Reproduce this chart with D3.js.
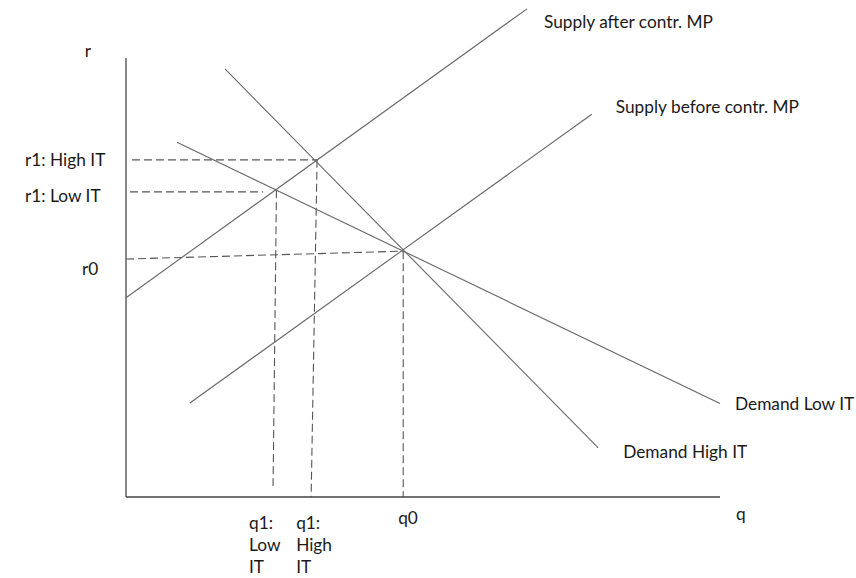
<!DOCTYPE html>
<html>
<head>
<meta charset="utf-8">
<script src="https://cdn.jsdelivr.net/npm/d3@7"></script>
<style>
  html, body { margin: 0; padding: 0; background: #fff; }
  svg { display: block; }
  text { font-family: Lato, "Open Sans", sans-serif; fill: #1a1a1a; }
</style>
</head>
<body>
<svg id="chart" width="856" height="578"></svg>
<script>
// ---- Data (quantity q, interest rate r, arbitrary units) ----
const seriesNames = ["Supply after contr. MP", "Supply before contr. MP", "Demand High IT", "Demand Low IT"];
const supplyAfter  = [{q: 0.00, r: 4.54}, {q: 8.10, r: 11.12}];
const supplyBefore = [{q: 1.29, r: 2.14}, {q: 9.41, r: 8.72}];
const demandHigh   = [{q: 2.00, r: 9.75}, {q: 9.54, r: 1.12}];
const demandLow    = [{q: 1.03, r: 8.08}, {q: 12.0, r: 2.13}];

// equilibrium / guide lines (dashed)
const guideR0      = [{q: 0.00, r: 5.42}, {q: 5.60, r: 5.60}];
const guideQ0      = [{q: 5.60, r: 5.60}, {q: 5.60, r: 0.00}];
const guideR1High  = [{q: 0.12, r: 7.68}, {q: 3.86, r: 7.68}];
const guideQ1High  = [{q: 3.86, r: 7.68}, {q: 3.74, r: 0.00}];
const guideR1Low   = [{q: 0.08, r: 6.95}, {q: 2.77, r: 6.95}];
const guideQ1Low   = [{q: 3.04, r: 6.99}, {q: 2.97, r: 0.16}];

// tick labels
const yTickLabels = ["r1: High IT", "r1: Low IT", "r0"];
const yTickValues = [7.68, 6.95, 5.42];
const xTickLabels = [["q1:", "Low", "IT"], ["q1:", "High", "IT"], ["q0"]];
const xTickValues = [2.97, 3.74, 5.60];
const axisTitles  = ["q", "r"];

// ---- Drawing ----
const svg = d3.select("#chart");
const x = d3.scaleLinear().domain([0, 12]).range([126, 720]);
const y = d3.scaleLinear().domain([0, 10]).range([497, 58]);
const line = d3.line().x(d => x(d.q)).y(d => y(d.r));

// axes (plain lines, no ticks)
svg.append("line").attr("x1", x(0)).attr("x2", x(0)).attr("y1", y(0)).attr("y2", y(10))
  .attr("stroke", "#555").attr("stroke-width", 1.4);
svg.append("line").attr("x1", x(0)).attr("x2", x(12)).attr("y1", y(0)).attr("y2", y(0))
  .attr("stroke", "#444").attr("stroke-width", 1.4);

// dashed guides
[guideR0, guideQ0, guideR1High, guideQ1High, guideR1Low, guideQ1Low].forEach(g => {
  svg.append("path").attr("d", line(g)).attr("fill", "none")
    .attr("stroke", "#555").attr("stroke-width", 1.1).attr("stroke-dasharray", "8,4");
});

// curves
[supplyAfter, supplyBefore, demandHigh, demandLow].forEach(s => {
  svg.append("path").attr("d", line(s)).attr("fill", "none")
    .attr("stroke", "#666").attr("stroke-width", 1.1);
});

const fs = 17.3;
function label(txt, px, py, anchor) {
  svg.append("text").attr("x", px).attr("y", py).attr("text-anchor", anchor || "start")
    .attr("dominant-baseline", "central").style("font-size", fs + "px").text(txt);
}

// series labels (placed near the line ends)
label(seriesNames[0], x(supplyAfter[1].q) + 17, y(supplyAfter[1].r) + 13);
label(seriesNames[1], x(supplyBefore[1].q) + 24, y(supplyBefore[1].r) - 8);
label(seriesNames[2], x(demandHigh[1].q) + 25, y(demandHigh[1].r) + 4);
label(seriesNames[3], x(demandLow[1].q) + 15, y(demandLow[1].r));

// y tick labels
const yLabelX = [25, 25, 82];
const yLabelDy = [0, 4, 9];
yTickLabels.forEach((t, i) => label(t, yLabelX[i], y(yTickValues[i]) + yLabelDy[i]));

// x tick labels
const xLabelDx = [-24, -15, -5];
xTickLabels.forEach((lines, i) => {
  lines.forEach((t, j) => {
    const base = lines.length > 1 ? 25 : 20;
    label(t, x(xTickValues[i]) + xLabelDx[i], y(0) + base + j * 22);
  });
});

// axis titles
label(axisTitles[0], 736, y(0) + 16);
label(axisTitles[1], 88, 50, "middle");
</script>
</body>
</html>
